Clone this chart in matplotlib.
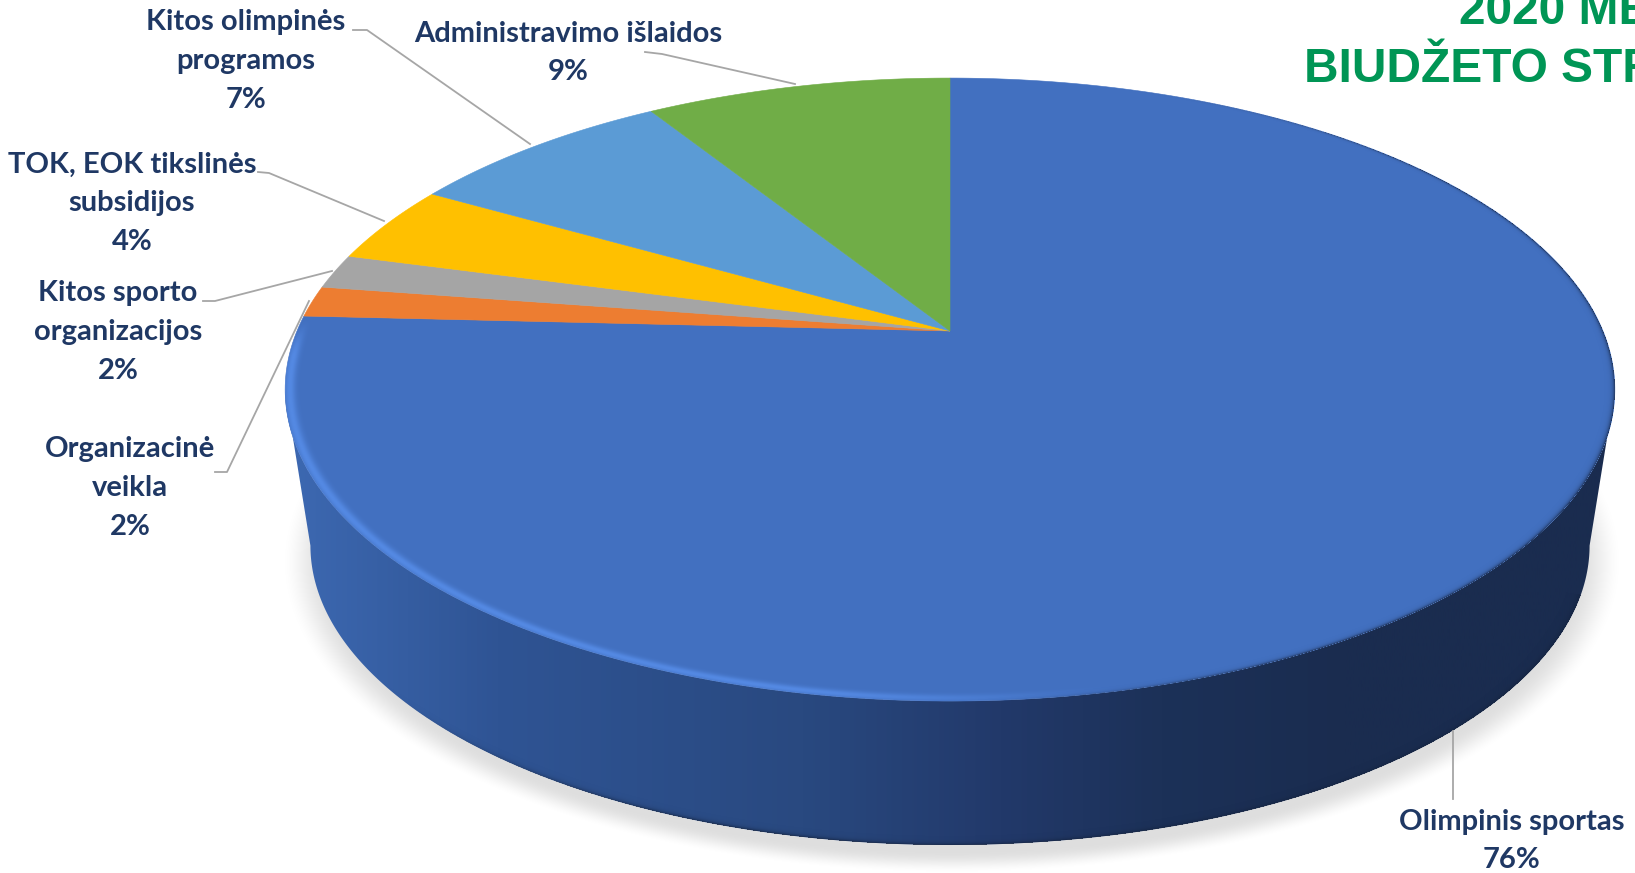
"""Budget structure 2020: tilted pie with a side wall, drawn on a pixel-sized axes."""
import numpy as np
import matplotlib
matplotlib.use("Agg")
import matplotlib.pyplot as plt
from matplotlib.colors import LinearSegmentedColormap, to_rgb
from matplotlib.patches import Polygon

# shares, clockwise from 12 o'clock
CATEGORIES = [
    "Olimpinis sportas",
    "Organizacinė\nveikla",
    "Kitos sporto\norganizacijos",
    "TOK, EOK tikslinės\nsubsidijos",
    "Kitos olimpinės\nprogramos",
    "Administravimo išlaidos",
]
SHARES = [75.8, 1.6, 1.8, 4.1, 7.8, 8.9]
PERCENT_LABELS = ["76%", "2%", "2%", "4%", "7%", "9%"]
COLORS = ["#4270C0", "#ED7D31", "#A5A5A5", "#FFC000", "#5B9BD5", "#70AD47"]
TITLE_LINES = ["2020 METŲ", "BIUDŽETO STRUKTŪRA"]

LABEL_XY = [(1512, 841), (130, 488), (118, 332), (132, 203), (246, 61), (568, 53)]
LEADERS = [
    [(1453, 731), (1453, 799)],
    [(215, 472), (227, 472), (309, 301)],
    [(203, 301), (215, 301), (332, 271)],
    [(258, 172), (269, 173), (384, 221)],
    [(353, 30), (367, 30), (530, 144)],
    [(645, 52), (662, 54), (795, 84)],
]

TEXT_COLOR = "#1F3864"
TITLE_COLOR = "#009555"
LEADER_COLOR = "#A6A6A6"

W, H = 1635, 873

# perspective of the disc
CX, CY = 950, 331
A, B, K = 653, 300.5, 0.188
SCALE_BOTTOM = 0.962
CY_BOTTOM = 489


def project(theta, cy=CY, scale=1.0):
    """theta is clockwise from the back of the disc"""
    u, v = np.sin(theta), np.cos(theta)
    w = 1 + K * v
    return np.column_stack([CX + scale * A * u / w, cy - scale * B * v / w])


def rim(start, stop, cy=CY, scale=1.0, n=400):
    return project(np.linspace(start, stop, n), cy, scale)


def disc_coords(x, y, cy=CY, scale=1.0):
    """Screen pixels back to disc radius and angle in degrees."""
    yn = (cy - y) / (scale * B)
    v = yn / (1 - K * yn)
    u = (x - CX) / (scale * A) * (1 + K * v)
    return np.hypot(u, v), np.degrees(np.arctan2(u, v)) % 360


def ramp(x, lo, hi):
    t = np.clip((x - lo) / (hi - lo), 0, 1)
    return t * t * (3 - 2 * t)


def overlay(color, alpha, zorder):
    rgba = np.zeros((H, W, 4))
    rgba[..., :3] = to_rgb(color)
    rgba[..., 3] = alpha
    return ax.imshow(rgba, extent=(0, W, H, 0), aspect="auto", zorder=zorder,
                     interpolation="bilinear")


fig = plt.figure(figsize=(16.35, 8.73), dpi=100)
ax = fig.add_axes([0, 0, 1, 1])
ax.axis("off")

px, py = np.meshgrid(np.arange(W) + 0.5, np.arange(H) + 0.5)

# soft shadow under the disc
d = np.hypot((px - CX - 2) / 672, (py - 562) / 312)
overlay("#000000", 0.13 * (1 - ramp(d, 0.93, 1.0)), 1)

# side wall, front part of the rim down to the lower rim
wall_lo = np.arccos(-0.189)
wall_hi = 2 * np.pi - wall_lo
wall = np.vstack([rim(wall_lo, wall_hi), rim(wall_lo, wall_hi, CY_BOTTOM, SCALE_BOTTOM)[::-1]])
wall_patch = Polygon(wall, closed=True, fc="none", ec="none", zorder=2)
ax.add_patch(wall_patch)
wall_cmap = LinearSegmentedColormap.from_list(
    "wall",
    [(0.0, "#3D69B2"), (0.16, "#2F5494"), (0.39, "#294980"), (0.54, "#22396A"),
     (0.66, "#1C3158"), (0.8, "#1A2C4F"), (1.0, "#1A2C4F")],
)
img = ax.imshow(np.linspace(0, 1, 512)[None, :], extent=(284, 1614, H, 0), cmap=wall_cmap,
                aspect="auto", zorder=2)
img.set_clip_path(wall_patch)

# dark lip along the lower rim, fades out to the left
r_low, theta_low = disc_coords(px, py, CY_BOTTOM, SCALE_BOTTOM)
lip = np.exp(-(1 - r_low) / 0.004) * (1 - ramp(theta_low, 195, 235))
overlay("#14233F", np.where((r_low < 1) & (theta_low > 110), 0.8 * lip, 0), 2.5)

# top face
edges = 2 * np.pi * np.cumsum([0] + SHARES) / sum(SHARES)
apex = np.array([[CX, CY]])
for start, stop, color in zip(edges[:-1], edges[1:], COLORS):
    pts = np.vstack([apex, rim(start, stop)])
    ax.add_patch(Polygon(pts, closed=True, fc=color, ec=color, lw=0.4, zorder=3))

# bevel on the rim, worked out in disc coordinates so it narrows towards the viewer
r, theta = disc_coords(px, py)
inside = r < 1.0
blue_end = np.degrees(edges[1])

light = (np.exp(-(((1 - r) - 0.007) / 0.0078) ** 2) * ramp(theta, 165, 192)
         * (1 - ramp(theta, blue_end - 8, blue_end)))
dark = np.exp(-(1 - r) / 0.0028) * ramp(theta, 15, 60) * (1 - ramp(theta, 150, 180))
overlay("#5C94F2", np.where(inside, 0.7 * light, 0), 4)
overlay("#1A2C4F", np.where(inside, 0.85 * dark, 0), 4)

ax.set_xlim(0, W)
ax.set_ylim(H, 0)

# leaders
for pts in LEADERS:
    ax.plot(*zip(*pts), color=LEADER_COLOR, lw=1.3, zorder=5)

# labels
for name, pct, (x, y) in zip(CATEGORIES, PERCENT_LABELS, LABEL_XY):
    ax.text(x, y, f"{name}\n{pct}", ha="center", va="center", ma="center",
            family="Lato", weight="bold", fontsize=21, color=TEXT_COLOR,
            linespacing=1.6, zorder=6)

# title runs off the right edge of the slide
ax.text(1459, 24, TITLE_LINES[0], ha="left", va="baseline", family="Liberation Sans",
        weight="bold", fontsize=34.5, color=TITLE_COLOR, zorder=6)
ax.text(1304, 82, TITLE_LINES[1], ha="left", va="baseline", family="Liberation Sans",
        weight="bold", fontsize=34.5, color=TITLE_COLOR, zorder=6)

fig.savefig("out.png", dpi=100)
